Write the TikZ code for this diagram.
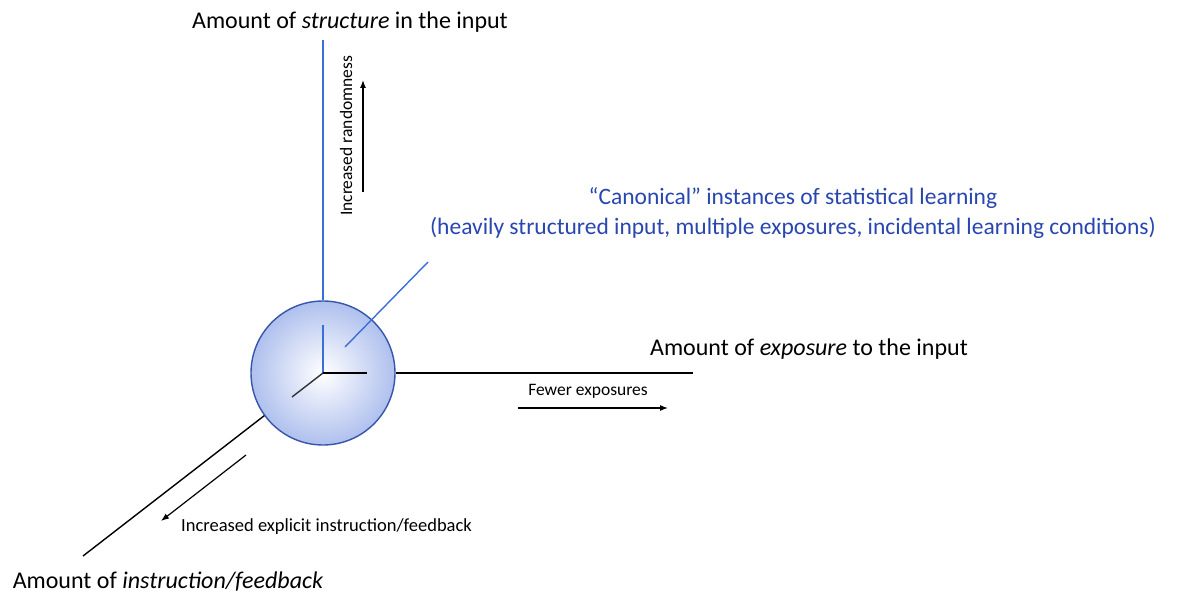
\documentclass[tikz,border=0pt]{standalone}
\usepackage{fontspec}
\setmainfont{Carlito}
\usetikzlibrary{arrows.meta}
\definecolor{canonblue}{RGB}{40,70,175}
\definecolor{lineblue}{RGB}{60,110,215}
\definecolor{hubedge}{RGB}{55,85,170}
\definecolor{hubfill}{RGB}{175,192,238}
\begin{document}
\begin{tikzpicture}[
    x=1pt,y=-1pt,
    axislabel/.style={font=\fontsize{24}{28}\selectfont,inner sep=0pt},
    small/.style={font=\fontsize{17.5}{21}\selectfont,inner sep=0pt},
    canon/.style={font=\fontsize{23.5}{30}\selectfont,text=canonblue,align=center,inner sep=0pt},
    hub/.style={circle,draw=hubedge,line width=1.4pt,minimum size=144pt,inner sep=0pt,inner color=white,outer color=hubfill},
    axis/.style={line width=1.4pt},
    arr/.style={-{Latex[length=8pt,width=6pt]},line width=1.2pt}
]
\useasboundingbox (0,0) rectangle (1180,601);
\node[hub] (hub) at (323,373) {};
% outer ends of the three axes
\coordinate (stru) at (323,40);
\coordinate (expo) at (693,373);
\coordinate (inst) at (83,556);
\draw[axis,lineblue] (hub.north) -- (stru);
\draw[axis] (hub.east) -- (expo);
\draw[axis] (hub.-144) -- (inst);
% the axes seen inside the sphere
\coordinate (instop) at (323,325);
\coordinate (inright) at (367,373);
\coordinate (indown) at (292,397);
\draw[axis,lineblue] (hub.center) -- (instop);
\draw[axis] (hub.center) -- (inright);
\draw[axis,black!80] (hub.center) -- (indown);
% labels
\node[axislabel] (lstru) at (350,22) {Amount of \emph{structure} in the input};
\node[axislabel] (lexpo) at (809,349) {Amount of \emph{exposure} to the input};
\node[axislabel] (linst) at (168,582) {Amount of \emph{instruction/feedback}};
\node[canon] (canon) at (793,213) {“Canonical” instances of statistical learning\\(heavily structured input, multiple exposures, incidental learning conditions)};
\coordinate (canpt) at (345,347);
\coordinate (canend) at (428,262);
\draw[axis,lineblue] (canpt) -- (canend);
% direction arrows
\node[small,rotate=90] (lrand) at (346,136) {Increased randomness};
\coordinate (randlo) at (363,192);
\coordinate (randhi) at (363,80);
\draw[arr] (randlo) -- (randhi);
\node[small] (lfew) at (588,391) {Fewer exposures};
\coordinate (fewl) at (518,408);
\coordinate (fewr) at (668,408);
\draw[arr] (fewl) -- (fewr);
\node[small,font=\fontsize{18.5}{22}\selectfont,anchor=west] (lexpl) at (181,527) {Increased explicit instruction/feedback};
\coordinate (explhi) at (246,455);
\coordinate (expllo) at (161,521);
\draw[arr] (explhi) -- (expllo);
\end{tikzpicture}
\end{document}
